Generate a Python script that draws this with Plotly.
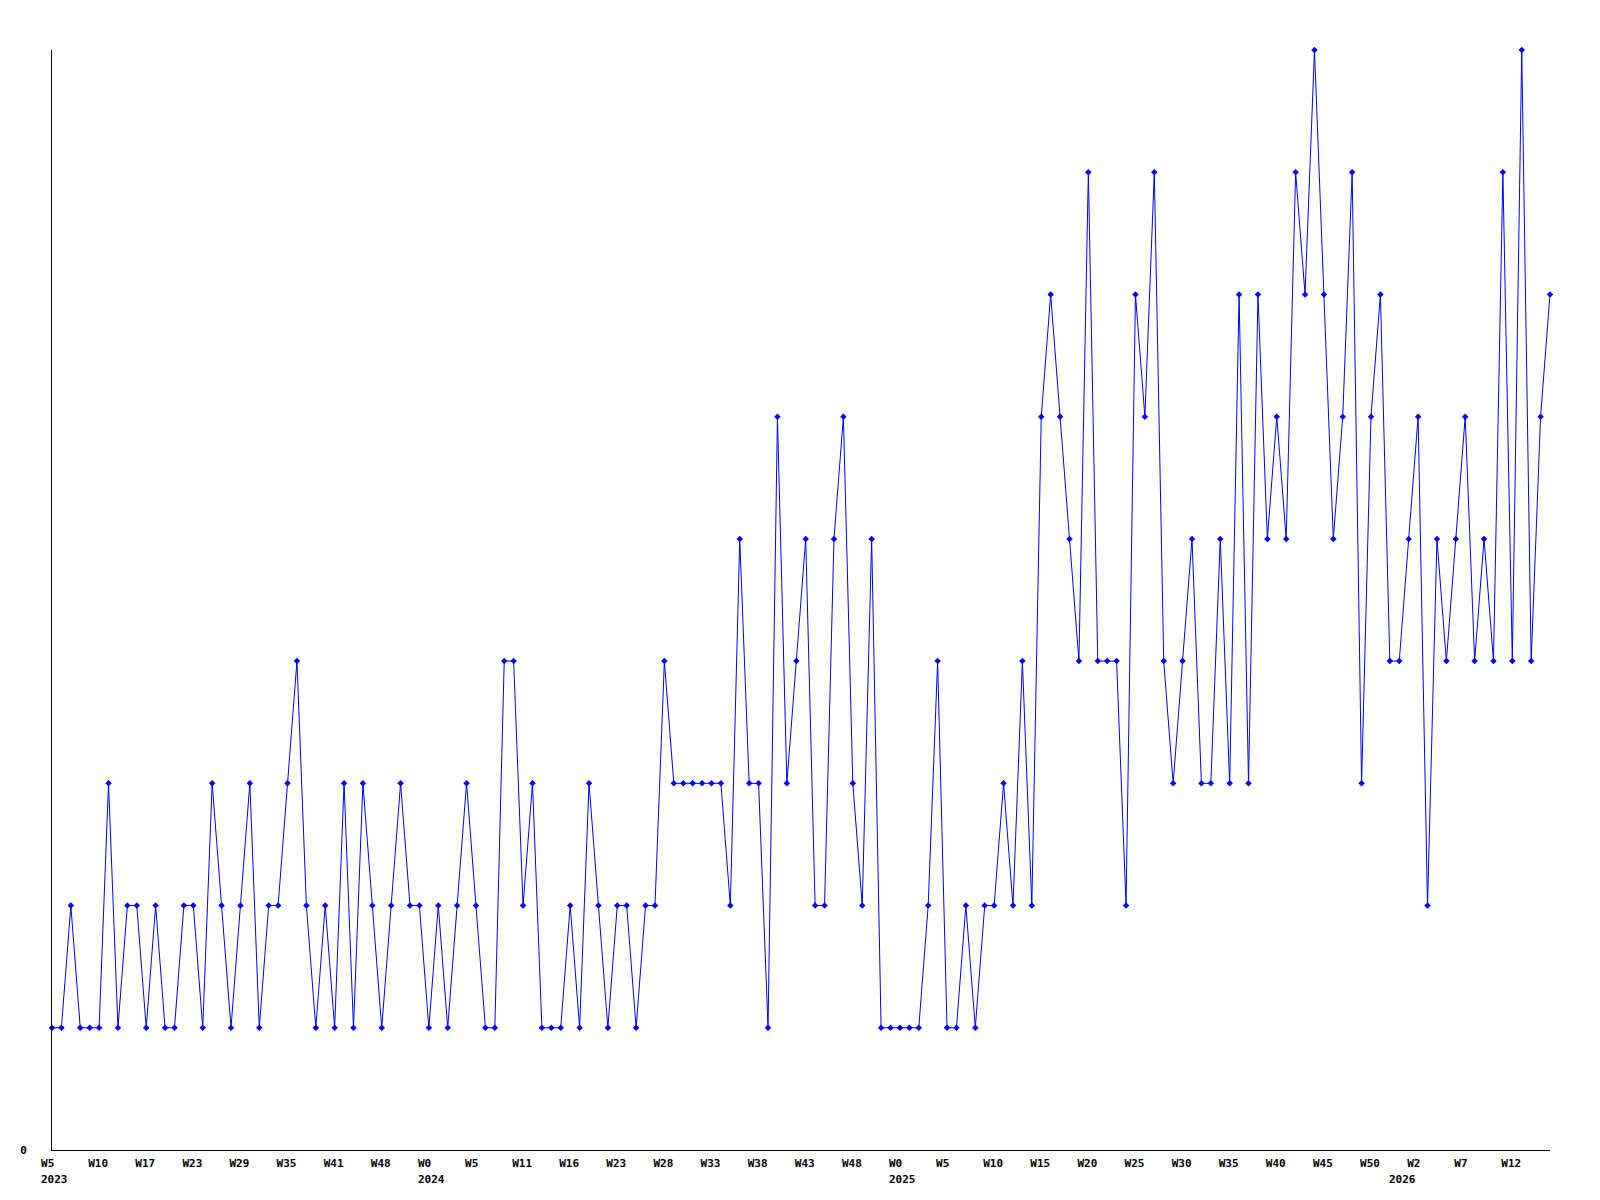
import plotly.graph_objects as go

# Weekly series values
values = [
    1, 1, 2, 1, 1, 1, 3, 1, 2, 2, 1, 2, 1, 1, 2, 2, 1, 3, 2, 1,
    2, 3, 1, 2, 2, 3, 4, 2, 1, 2, 1, 3, 1, 3, 2, 1, 2, 3, 2, 2,
    1, 2, 1, 2, 3, 2, 1, 1, 4, 4, 2, 3, 1, 1, 1, 2, 1, 3, 2, 1,
    2, 2, 1, 2, 2, 4, 3, 3, 3, 3, 3, 3, 2, 5, 3, 3, 1, 6, 3, 4,
    5, 2, 2, 5, 6, 3, 2, 5, 1, 1, 1, 1, 1, 2, 4, 1, 1, 2, 1, 2,
    2, 3, 2, 4, 2, 6, 7, 6, 5, 4, 8, 4, 4, 4, 2, 7, 6, 8, 4, 3,
    4, 5, 3, 3, 5, 3, 7, 3, 7, 5, 6, 5, 8, 7, 9, 7, 5, 6, 8, 3,
    6, 7, 4, 4, 5, 6, 2, 5, 4, 5, 6, 4, 5, 4, 8, 4, 9, 4, 6, 7,
]
x_index = list(range(len(values)))

# Tick labels (one every 5 points) and year labels
week_labels = ["W5", "W10", "W17", "W23", "W29", "W35", "W41", "W48",
               "W0", "W5", "W11", "W16", "W23", "W28", "W33", "W38",
               "W43", "W48", "W0", "W5", "W10", "W15", "W20", "W25",
               "W30", "W35", "W40", "W45", "W50", "W2", "W7", "W12"]
year_labels = ["2023", "2024", "2025", "2026"]
year_tick_index = [0, 40, 90, 145]

TICK_STEP = 5
tick_vals = x_index[::TICK_STEP]
# labels in the reference start ~10px left of the tick; pad short labels so they line up
tick_text = [t if len(t) >= 3 else t + "\u00a0" * (3 - len(t)) for t in week_labels]

# layout only: pixel offsets of the year labels' left edges from their tick
year_xshift = [-13, -13, -13, -31.5]

FONT = dict(family="DejaVu Sans Mono", size=11, color="black", weight="bold")

fig = go.Figure()
fig.add_trace(go.Scatter(
    x=x_index, y=values, mode="lines+markers",
    line=dict(color="#0000FF", width=1),
    marker=dict(symbol="diamond", size=5, color="#0000FF"),
    cliponaxis=False, hoverinfo="skip", showlegend=False,
))

for pos, txt, dx in zip(year_tick_index, year_labels, year_xshift):
    fig.add_annotation(x=pos, xref="x", y=0, yref="paper", text=txt,
                       showarrow=False, xanchor="left", yanchor="middle",
                       xshift=dx, yshift=-29, font=FONT)

# the page body adds an 8px margin; compensate so the plot area sits at 50..1550 x 50..1150
fig.update_layout(
    width=1592, height=1192,
    margin=dict(l=42, r=50, t=42, b=50),
    paper_bgcolor="white", plot_bgcolor="white",
    xaxis=dict(range=[0, len(values) - 1], showgrid=False, zeroline=False,
               showline=True, linecolor="black", linewidth=1,
               tickmode="array", tickvals=tick_vals, ticktext=tick_text,
               ticks="", tickfont=FONT, ticklabelstandoff=3, ticklabelshift=-1),
    yaxis=dict(range=[0, 9], showgrid=False, zeroline=False,
               showline=True, linecolor="black", linewidth=1,
               tickmode="array", tickvals=[0], ticktext=["0"],
               ticks="", tickfont=FONT, ticklabelstandoff=22),
)

fig.write_html("out.html")
